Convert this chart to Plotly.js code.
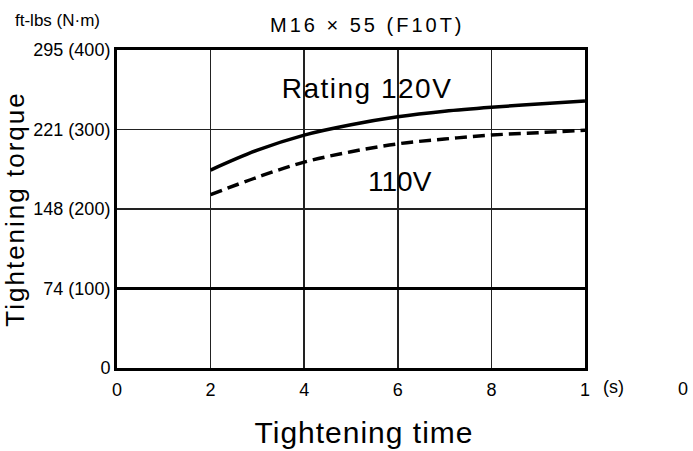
<!DOCTYPE html>
<html><head><meta charset="utf-8">
<script src="https://cdn.plot.ly/plotly-3.0.1.min.js"></script>
<style>
body{margin:0;background:#fff}#c{width:693px;height:451px}
#c .gtitle{letter-spacing:3px}
#c .ytitle{letter-spacing:2px}
#c .big-ann .annotation-text{letter-spacing:1.5px}
#c .xt-ann .annotation-text{letter-spacing:1px}
</style>
</head><body><div id="c"></div>
<script>
const timeS = [2, 3, 4, 5, 6, 7, 8, 9, 10];
const torque120V = [249, 274, 293, 306, 316, 323, 328, 332, 336];
const torque110V = [218, 240, 259, 272, 282, 288, 293, 296, 299];
const yTickVals = [0, 100, 200, 300, 400];
const yTickText = ['0', '74 (100)', '148 (200)', '221 (300)', '295 (400)'];
const xTickVals = [0, 2, 4, 6, 8, 10];
const xTickText = ['0', '2', '4', '6', '8', '1'];
const refLevel = 100;

const F = 'Liberation Sans, Arial, sans-serif';
const FN = 'Liberation Sans Narrow, Liberation Sans, Arial, sans-serif';

const data = [
  {x: timeS, y: torque120V, mode: 'lines', line: {color: '#000', width: 3.5, shape: 'spline'}, hoverinfo: 'skip'},
  {x: timeS, y: torque110V, mode: 'lines', line: {color: '#000', width: 3.5, dash: '12px,6px', shape: 'spline'}, hoverinfo: 'skip'}
];

const layout = {
  width: 693, height: 451,
  margin: {l: 117, r: 108, t: 50, b: 83},
  paper_bgcolor: '#fff', plot_bgcolor: '#fff',
  showlegend: false,
  title: {text: 'M16 × 55 (F10T)', font: {family: F, size: 20, color: '#000'}, x: 0.53, xanchor: 'center', y: 0.945, yanchor: 'middle'},
  xaxis: {
    range: [0, 10], tickvals: xTickVals, ticktext: xTickText,
    showgrid: true, gridcolor: '#222', gridwidth: 1.5,
    showline: true, linecolor: '#000', linewidth: 3, mirror: true,
    zeroline: false, ticks: '', fixedrange: true, ticklabelstandoff: 3,
    tickfont: {family: F, size: 18, color: '#000'}
  },
  yaxis: {
    range: [0, 400], tickvals: yTickVals, ticktext: yTickText,
    showgrid: true, gridcolor: '#222', gridwidth: 1.5,
    showline: true, linecolor: '#000', linewidth: 3, mirror: true,
    zeroline: false, ticks: '', fixedrange: true,
    tickfont: {family: FN, size: 18, color: '#000'},
    title: {text: 'Tightening torque', font: {family: F, size: 26, color: '#000'}, standoff: 4}
  },
  shapes: [
    {type: 'line', xref: 'x', yref: 'y', x0: 0, x1: 10, y0: refLevel, y1: refLevel, line: {color: '#000', width: 3}}
  ],
  annotations: [
    {text: 'ft-lbs (N·m)', xref: 'paper', yref: 'paper', x: -0.222, y: 1.092, xanchor: 'left', yanchor: 'middle', showarrow: false, font: {family: FN, size: 17, color: '#000'}},
    {text: 'Rating 120V', xref: 'x', yref: 'y', x: 3.65, y: 351, xanchor: 'left', yanchor: 'middle', showarrow: false, font: {family: F, size: 28, color: '#000'}},
    {text: '110V', xref: 'x', yref: 'y', x: 5.33, y: 235, xanchor: 'left', yanchor: 'middle', showarrow: false, font: {family: F, size: 28, color: '#000'}},
    {text: '(s)', xref: 'paper', yref: 'paper', x: 1.06, y: -0.06, xanchor: 'center', yanchor: 'middle', showarrow: false, font: {family: F, size: 18, color: '#000'}},
    {text: '0', xref: 'paper', yref: 'paper', x: 1.21, y: -0.065, xanchor: 'center', yanchor: 'middle', showarrow: false, font: {family: F, size: 18, color: '#000'}},
    {text: 'Tightening time', xref: 'paper', yref: 'paper', x: 0.528, y: -0.203, xanchor: 'center', yanchor: 'middle', showarrow: false, font: {family: F, size: 30, color: '#000'}}
  ]
};

Plotly.newPlot('c', data, layout, {staticPlot: true, displayModeBar: false}).then(function(gd){
  const anns = gd.querySelectorAll('.annotation');
  if (anns[1]) anns[1].classList.add('big-ann');
  if (anns[5]) anns[5].classList.add('xt-ann');
});
</script>
</body></html>
